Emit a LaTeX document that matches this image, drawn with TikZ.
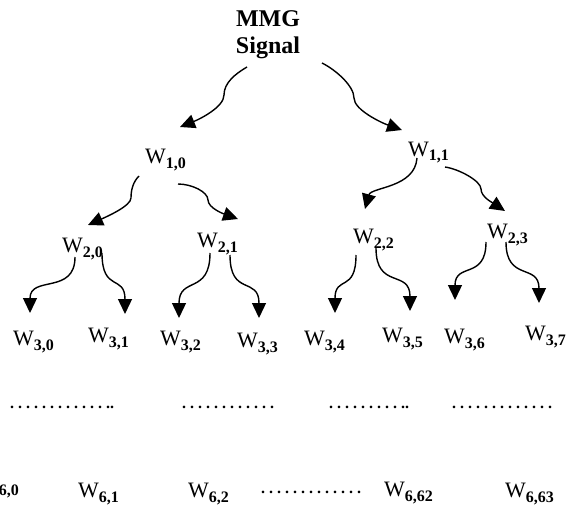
\documentclass[tikz,border=0pt]{standalone}
\usepackage{fontspec}
\setmainfont{Liberation Serif}
\usetikzlibrary{arrows.meta}
% coefficient label: W with a bold index
\newcommand{\Wsub}[1]{W\raisebox{-5pt}{\fontsize{16pt}{16pt}\selectfont\bfseries #1}}
\tikzset{
  lbl/.style={anchor=base west, inner sep=0pt, font=\fontsize{22pt}{22pt}\selectfont},
  dotrow/.style={anchor=base west, inner sep=0pt, font=\fontsize{16pt}{16pt}\selectfont\bfseries\frenchspacing},
  arr/.style={line width=1.4pt, -{Triangle[length=15pt,width=14pt]}},
}
\begin{document}
\begin{tikzpicture}[x=1pt,y=-1pt]
\useasboundingbox (0,0) rectangle (568,511);
\fill[white] (0,0) rectangle (568,511);
\clip (0,0) rectangle (568,511);

% root
\node[inner sep=0pt, anchor=north, align=center,
      font=\fontsize{24pt}{27pt}\selectfont\bfseries] (root) at (268,10) {MMG\\Signal};

% level 1
\node[lbl] (w10) at (145,163) {\Wsub{1,0}};
\node[lbl] (w11) at (408,156) {\Wsub{1,1}};

% level 2
\node[lbl] (w20) at (62,252) {\Wsub{2,0}};
\node[lbl] (w21) at (197,247) {\Wsub{2,1}};
\node[lbl] (w22) at (353,243) {\Wsub{2,2}};
\node[lbl] (w23) at (487,238) {\Wsub{2,3}};

% level 3
\node[lbl] (w30) at (13,345) {\Wsub{3,0}};
\node[lbl] (w31) at (88,342) {\Wsub{3,1}};
\node[lbl] (w32) at (160,345) {\Wsub{3,2}};
\node[lbl] (w33) at (237,347) {\Wsub{3,3}};
\node[lbl] (w34) at (304,345) {\Wsub{3,4}};
\node[lbl] (w35) at (382,342) {\Wsub{3,5}};
\node[lbl] (w36) at (444,343) {\Wsub{3,6}};
\node[lbl] (w37) at (525,340) {\Wsub{3,7}};

% intermediate levels
\node[dotrow] (d1) at (10,408) {. . . . . . . . . . . . ..};
\node[dotrow] (d2) at (182,408) {. . . . . . . . . . . .};
\node[dotrow] (d3) at (329,408) {. . . . . . . . . ..};
\node[dotrow] (d4) at (452,408) {. . . . . . . . . . . . .};

% level 6
\node[lbl] (w60) at (-22,490) {\Wsub{6,0}};
\node[lbl] (w61) at (78,497) {\Wsub{6,1}};
\node[lbl] (w62) at (188,497) {\Wsub{6,2}};
\node[dotrow] (d5) at (261,493) {. . . . . . . . . . . . .};
\node[lbl] (w662) at (384,496) {\Wsub{6,62}};
\node[lbl] (w663) at (505,497) {\Wsub{6,63}};

% arrow ends
\coordinate (s10) at (247,67);  \coordinate (t10) at (180,127);
\coordinate (s11) at (322,63);  \coordinate (t11) at (402,130);
\coordinate (s20) at (139,176); \coordinate (t20) at (88,225);
\coordinate (s21) at (178,184); \coordinate (t21) at (238,219);
\coordinate (s22) at (417,158); \coordinate (t22) at (365,209);
\coordinate (s23) at (445,167); \coordinate (t23) at (505,211);
\coordinate (s30) at (75,257);  \coordinate (t30) at (30,313);
\coordinate (s31) at (102,253); \coordinate (t31) at (125,314);
\coordinate (s32) at (210,253); \coordinate (t32) at (179,318);
\coordinate (s33) at (230,255); \coordinate (t33) at (259,318);
\coordinate (s34) at (356,255); \coordinate (t34) at (335,313);
\coordinate (s35) at (376,248); \coordinate (t35) at (410,311);
\coordinate (s36) at (486,242); \coordinate (t36) at (455,300);
\coordinate (s37) at (506,242); \coordinate (t37) at (539,303);

% root to level 1
\draw[arr] (s10) .. controls +(-12,7) and +(0,-12) .. (224,95) .. controls +(0,12) and +(20,-8) .. (t10);
\draw[arr] (s11) .. controls +(14,7) and +(0,-12) .. (354,98) .. controls +(0,12) and +(-20,-7) .. (t11);

% level 1 to level 2
\draw[arr] (s20) .. controls +(-6,6) and +(0,-8) .. (131,198) .. controls +(0,8) and +(18,-8) .. (t20);
\draw[arr] (s21) .. controls +(14,0) and +(0,-8) .. (208,200) .. controls +(0,8) and +(-14,-5) .. (t21);
\draw[arr] (s22) .. controls +(-2,30) and +(6,-22) .. (t22);
\draw[arr] (s23) .. controls +(14,2) and +(0,-8) .. (481,189) .. controls +(0,8) and +(-12,-8) .. (t23);

% level 2 to level 3
\draw[arr] (s30) .. controls +(0,38) and +(0,-38) .. (t30);
\draw[arr] (s31) .. controls +(0,40) and +(0,-40) .. (t31);
\draw[arr] (s32) .. controls +(0,42) and +(0,-42) .. (t32);
\draw[arr] (s33) .. controls +(0,42) and +(0,-42) .. (t33);
\draw[arr] (s34) .. controls +(0,38) and +(0,-38) .. (t34);
\draw[arr] (s35) .. controls +(0,42) and +(0,-42) .. (t35);
\draw[arr] (s36) .. controls +(0,38) and +(0,-38) .. (t36);
\draw[arr] (s37) .. controls +(0,40) and +(0,-40) .. (t37);
\end{tikzpicture}
\end{document}
